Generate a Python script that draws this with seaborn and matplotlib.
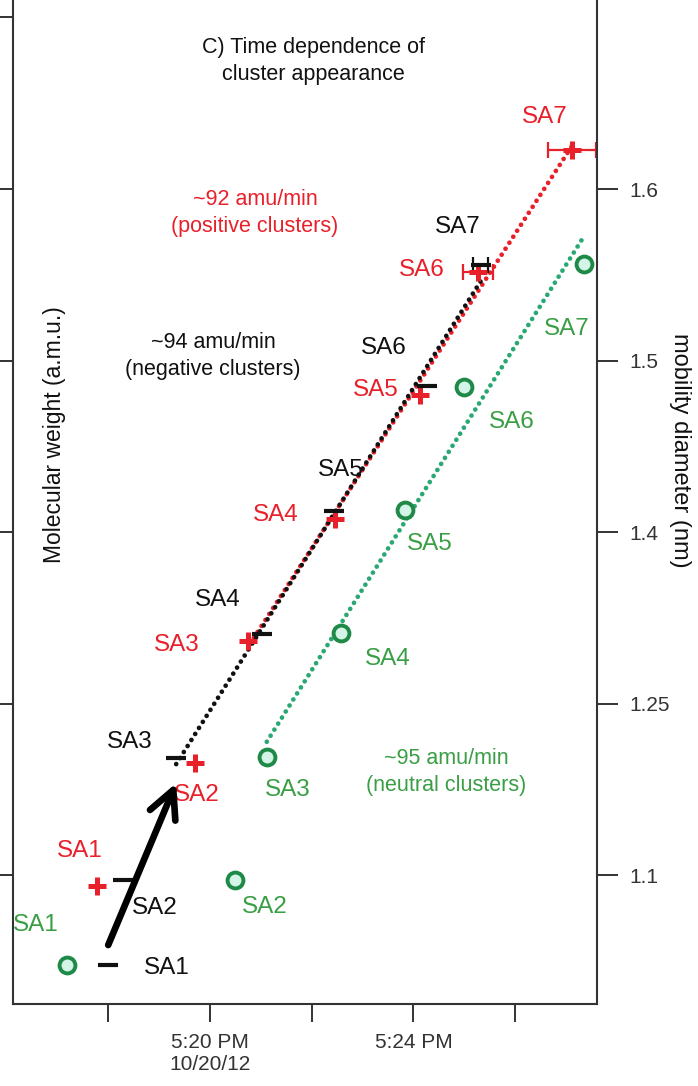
import numpy as np
import pandas as pd
import matplotlib
matplotlib.use("Agg")
import matplotlib.pyplot as plt
from matplotlib.transforms import offset_copy
import seaborn as sns

# ---- data: appearance time (minutes after 17:00) and cluster mass (amu) ----
labels = ["SA1", "SA2", "SA3", "SA4", "SA5", "SA6", "SA7"]

neg_time = [18.00, 18.29, 19.34, 21.02, 22.44, 24.27, 25.32]
neg_mass = [95.0, 194.2, 336.4, 481.1, 624.5, 770.3, 911.4]
neg_xerr = [0, 0, 0, 0, 0, 0, 0.15]

pos_time = [17.78, 19.71, 20.75, 22.46, 24.13, 25.27, 27.12]
pos_mass = [187.2, 330.6, 472.9, 615.2, 759.8, 903.2, 1045.5]
pos_xerr = [0, 0, 0, 0, 0, 0.30, 0.47]

neu_time = [17.19, 20.50, 21.12, 22.57, 23.83, 24.99, 27.36]
neu_mass = [95.0, 194.0, 337.6, 482.0, 625.7, 769.0, 912.6]

# clusters SA3..SA7 enter the linear growth fits
fit_from = 2

mw_ticks = [200, 400, 600, 800, 1000, 1200]
diam_labels = ["1.1", "1.25", "1.4", "1.5", "1.6"]
time_ticks = [18, 20, 22, 24, 26]
time_labels = ["", "5:20 PM\n10/20/12", "", "5:24 PM", ""]

# ---- styling ----
sns.set_theme(style="ticks")
plt.rcParams["font.family"] = ["Liberation Sans", "DejaVu Sans"]

RED = "#e8202a"
BLACK = "#111111"
GREEN_M = "#1f8a48"
GREEN_L = "#2aa874"
GREEN_T = "#3a9e45"
MINT = "#d3f4e6"
AXC = "#333333"

fig = plt.figure(figsize=(6.98, 10.86), dpi=100)
ax = fig.add_axes([13 / 698, 82 / 1086, 584 / 698, 1004 / 1086])
ax.set_xlim(16.134, 27.607)
ax.set_ylim(49.6, 1220.4)

df_neg = pd.DataFrame({"t": neg_time, "m": neg_mass, "lab": labels})
df_pos = pd.DataFrame({"t": pos_time, "m": pos_mass, "lab": labels})
df_neu = pd.DataFrame({"t": neu_time, "m": neu_mass, "lab": labels})

# round, well separated dots
dot_gap = (0.01, 1.5)


def fit_line(df, color, z, phase=0.0):
    sub = df.iloc[fit_from:]
    slope, icpt = np.polyfit(sub["t"], sub["m"], 1)
    tt = np.array([sub["t"].min(), sub["t"].max()])
    line = pd.DataFrame({"t": tt, "m": slope * tt + icpt})
    sns.lineplot(data=line, x="t", y="m", color=color, linewidth=3.4,
                 linestyle=(phase, dot_gap), dash_capstyle="round",
                 ax=ax, zorder=z)
    return slope


fit_line(df_neu, GREEN_L, 2)
fit_line(df_pos, RED, 2, phase=0.75)
fit_line(df_neg, BLACK, 3)

# error bars on the late clusters
for df, err, col in [(df_pos, pos_xerr, RED), (df_neg, neg_xerr, BLACK)]:
    err = np.asarray(err)
    mask = err > 0
    ax.errorbar(df["t"][mask], df["m"][mask], xerr=err[mask], fmt="none",
                ecolor=col, elinewidth=1.6, capsize=6, capthick=1.6, zorder=4)

# markers
sns.scatterplot(data=df_neu, x="t", y="m", marker="o", s=130, color=MINT,
                edgecolor=GREEN_M, linewidth=2.8, ax=ax, zorder=5)
sns.scatterplot(data=df_pos, x="t", y="m", marker="+", s=160, color=RED,
                linewidth=3.6, ax=ax, zorder=6)
sns.scatterplot(data=df_neg, x="t", y="m", marker="_", s=190, color=BLACK,
                linewidth=3.0, ax=ax, zorder=6)

# cluster labels, offsets in pixels from each marker
neg_off = [(59, -3), (32, -28), (-46, 16), (-44, 34), (7, 41), (-43, 38), (-23, 38)]
pos_off = [(-17, 35), (2, -32), (-71, -4), (-59, 4), (-44, 5), (-56, 2), (-27, 33)]
neu_off = [(-31, 40), (30, -27), (21, -33), (47, -26), (25, -34), (48, -35), (-18, -65)]

for df, offs, col in [(df_neg, neg_off, BLACK), (df_pos, pos_off, RED),
                      (df_neu, neu_off, GREEN_T)]:
    for (t, m, lab), off in zip(df[["t", "m", "lab"]].itertuples(index=False), offs):
        ax.annotate(lab, xy=(t, m), xytext=off, textcoords="offset pixels",
                    ha="center", va="center", fontsize=17.5, color=col, zorder=7)

# arrow pointing at the first negative cluster on the growth line
tip = offset_copy(ax.transData, fig=fig, x=0, y=-25, units="dots")
ax.annotate("", xy=(neg_time[2], neg_mass[2]), xycoords=tip,
            xytext=(-68, -162), textcoords="offset pixels",
            arrowprops=dict(arrowstyle="->,head_length=0.9,head_width=0.45",
                            lw=4.8, color="black", mutation_scale=22,
                            shrinkA=0, shrinkB=0), zorder=8)

# growth-rate notes and panel title
note = dict(ha="center", va="center", fontsize=15.5, linespacing=1.35,
            transform=ax.transAxes)
ax.text(0.5137, 0.9392, "C) Time dependence of\ncluster appearance",
        color=BLACK, **note)
ax.text(0.4144, 0.7878, "~92 amu/min\n(positive clusters)", color=RED, **note)
ax.text(0.3425, 0.6454, "~94 amu/min\n(negative clusters)", color=BLACK, **note)
ax.text(0.7414, 0.2311, "~95 amu/min\n(neutral clusters)", color=GREEN_T, **note)

ax.text(0.0719, 0.5667, "Molecular weight (a.m.u.)", rotation=90,
        ha="center", va="center", fontsize=16.5, color=BLACK,
        transform=ax.transAxes)

# axes: left molecular weight (labels fall outside the panel), right mobility
# diameter, bottom time
ax.set_xlabel("")
ax.set_ylabel("")
ax.set_xticks(time_ticks)
ax.set_xticklabels(time_labels, fontsize=15, color=AXC, linespacing=1.2)
ax.set_yticks(mw_ticks)
ax.set_yticklabels([])
ax.tick_params(axis="both", direction="out", length=13, width=1.4,
               colors=AXC, pad=8)
ax.spines["top"].set_visible(False)
ax.spines["right"].set_visible(False)
for s in ("left", "bottom"):
    ax.spines[s].set_linewidth(1.5)
    ax.spines[s].set_color(AXC)

ax2 = ax.twinx()
ax2.set_ylim(ax.get_ylim())
ax2.set_yticks(mw_ticks[:len(diam_labels)])
ax2.set_yticklabels(diam_labels, fontsize=15, color=AXC)
ax2.tick_params(axis="y", direction="out", length=15, width=1.4,
                colors=AXC, pad=8)
for s in ("top", "left", "bottom"):
    ax2.spines[s].set_visible(False)
ax2.spines["right"].set_linewidth(1.5)
ax2.spines["right"].set_color(AXC)

fig.text(680 / 698, 1 - 450 / 1086, "mobility diameter (nm)", rotation=270,
         ha="center", va="center", fontsize=17, color=BLACK)

fig.savefig("out.png", dpi=100, facecolor="white")
